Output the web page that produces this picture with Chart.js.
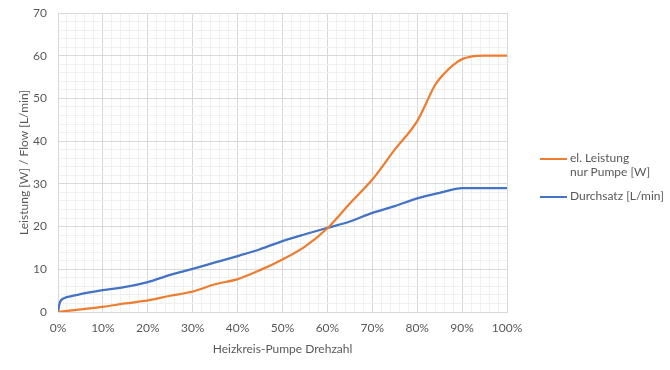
<!DOCTYPE html>
<html lang="de">
<head>
  <meta charset="UTF-8">
  <title>Heizkreis-Pumpe Drehzahl</title>
  <script src="https://cdn.jsdelivr.net/npm/chart.js"></script>
  <style>
    body {
      margin: 0;
      background: #fff;
      font-family: Lato, sans-serif;
    }
    .wrap {
      position: relative;
      width: 670px;
      height: 370px;
    }
    .legend {
      position: absolute;
      left: 540px;
      top: 151px;
      font-size: 12px;
      color: #595959;
      line-height: 14px;
    }
    .item {
      display: flex;
      align-items: flex-start;
      margin-bottom: 10px;
    }
    .swatch {
      width: 27px;
      height: 2px;
      margin-top: 7px;
      margin-right: 3px;
    }
  </style>
</head>
<body>
  <div class="wrap">
    <canvas id="chart" width="670" height="370"></canvas>
    <div class="legend">
      <div class="item"><div class="swatch" style="background:#ED7D31"></div><div>el. Leistung<br>nur Pumpe [W]</div></div>
      <div class="item"><div class="swatch" style="background:#4472C4"></div><div>Durchsatz [L/min]</div></div>
    </div>
  </div>

  <script>
    // Drehzahl in %
    const speedPower = [0, 2, 5, 10, 15, 20, 25, 30, 35, 40, 45, 50, 55, 60, 65, 70, 75, 80, 82, 84, 86, 88, 90, 92, 95, 100];
    const power      = [0, 0.25, 0.6, 1.2, 2.0, 2.7, 3.8, 4.8, 6.5, 7.7, 9.8, 12.3, 15.3, 19.6, 25.4, 31.0, 38.0, 44.7, 48.9, 53.2, 55.8, 57.8, 59.2, 59.8, 60.0, 60.0];

    const speedFlow = [0, 0.4, 1.5, 3, 5, 10, 15, 20, 25, 30, 35, 40, 45, 50, 55, 60, 65, 70, 75, 80, 85, 90, 95, 100];
    const flow      = [0, 2.2, 3.3, 3.7, 4.2, 5.1, 5.9, 7.0, 8.7, 10.1, 11.6, 13.1, 14.7, 16.6, 18.2, 19.7, 21.2, 23.2, 24.8, 26.6, 27.9, 29.0, 29.0, 29.0];

    const toPoints = (xs, ys) => xs.map((x, i) => ({ x: x, y: ys[i] }));

    const textColor = '#595959';
    const font = { family: 'Lato, sans-serif', size: 12 };

    const gridColor = ctx => {
      const v = ctx.tick ? ctx.tick.value : 0;
      return Math.round(v) % 10 === 0 ? '#d9d9d9' : '#f0f0f0';
    };

    new Chart(document.getElementById('chart'), {
      type: 'line',
      data: {
        datasets: [
          {
            label: 'el. Leistung nur Pumpe [W]',
            data: toPoints(speedPower, power),
            borderColor: '#ED7D31',
            borderWidth: 2.25,
            pointRadius: 0,
            cubicInterpolationMode: 'monotone',
            fill: false
          },
          {
            label: 'Durchsatz [L/min]',
            data: toPoints(speedFlow, flow),
            borderColor: '#4472C4',
            borderWidth: 2.25,
            pointRadius: 0,
            cubicInterpolationMode: 'monotone',
            fill: false
          }
        ]
      },
      options: {
        responsive: false,
        animation: false,
        layout: { padding: { top: 13, right: 163, bottom: 0, left: 0 } },
        plugins: {
          legend: { display: false },
          tooltip: { enabled: false }
        },
        scales: {
          x: {
            type: 'linear',
            min: 0,
            max: 100,
            afterFit: s => { s.height = 58; },
            ticks: {
              stepSize: 2,
              autoSkip: false,
              maxRotation: 0,
              padding: 9,
              color: textColor,
              font: font,
              callback: v => (Math.round(v) % 10 === 0 ? v + '%' : '')
            },
            grid: { color: gridColor, drawTicks: false },
            border: { color: '#d9d9d9' },
            title: {
              display: true,
              text: 'Heizkreis-Pumpe Drehzahl',
              color: textColor,
              font: font,
              padding: { top: 0, bottom: 14 }
            }
          },
          y: {
            min: 0,
            max: 70,
            afterFit: s => { s.width = 58; },
            ticks: {
              stepSize: 2,
              autoSkip: false,
              padding: 0,
              color: textColor,
              font: font,
              callback: v => (Math.round(v) % 10 === 0 ? v : '')
            },
            // invisible tick marks keep the labels off the axis
            grid: { color: gridColor, drawTicks: true, tickLength: 11, tickColor: 'rgba(0,0,0,0)' },
            border: { color: '#d9d9d9' },
            title: {
              display: true,
              text: 'Leistung [W] / Flow [L/min]',
              color: textColor,
              font: font,
              padding: { top: 17, bottom: 0 }
            }
          }
        }
      }
    });
  </script>
</body>
</html>
